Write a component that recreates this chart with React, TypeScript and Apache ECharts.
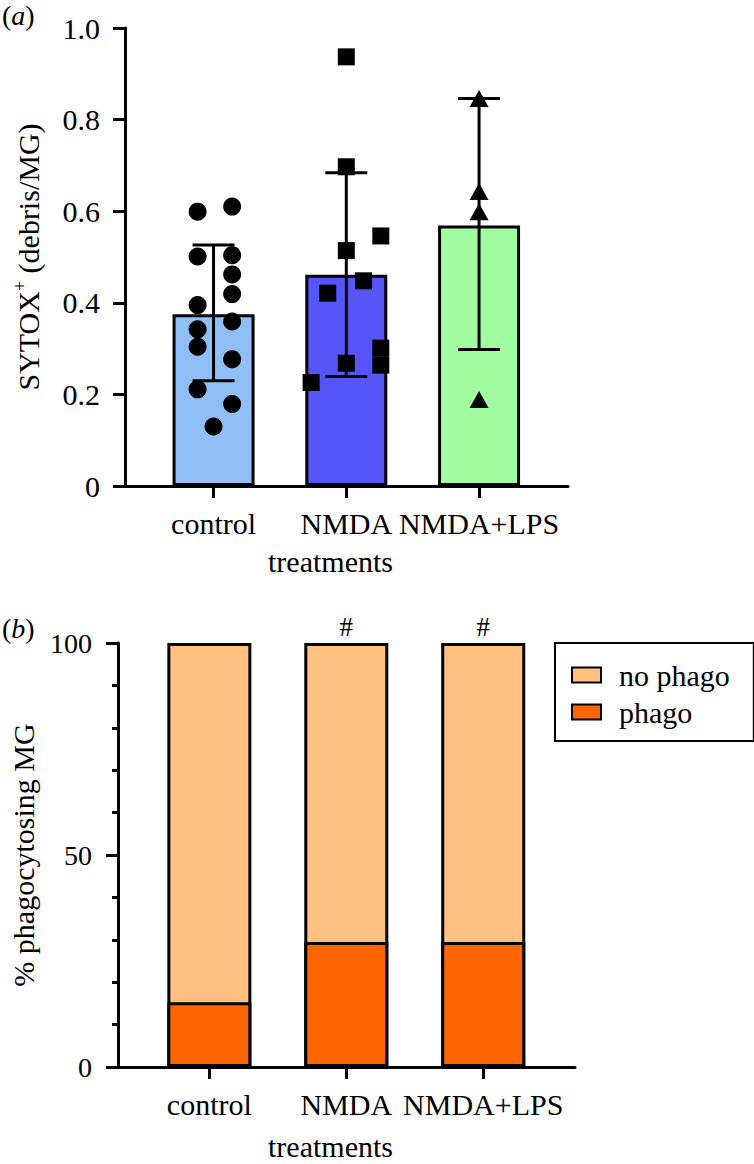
import React, { useEffect, useRef } from 'react';
import * as echarts from 'echarts';

const FONT = 'Liberation Serif';

// ---- shared categories ----
const categories = ['control', 'NMDA', 'NMDA+LPS'];
const catIndex = [0, 1, 2];

// ---- panel (a) ----
const barColorsA = ['#8FBFF6', '#5656F8', '#A2FDA0'];
const meansA = [0.375, 0.461, 0.569];
const errLowA = [0.23, 0.239, 0.298];
const errHighA = [0.526, 0.684, 0.846];
const controlPts = [0.599, 0.61, 0.501, 0.504, 0.462, 0.419, 0.395, 0.342, 0.304, 0.359, 0.277, 0.211, 0.179, 0.13];
const controlJitter = [-0.12, 0.14, -0.12, 0.14, 0.14, 0.14, -0.12, -0.12, -0.12, 0.14, 0.14, -0.12, 0.14, 0];
const nmdaPts = [0.937, 0.697, 0.546, 0.514, 0.448, 0.421, 0.301, 0.264, 0.268, 0.226];
const nmdaJitter = [0, 0, 0.26, 0, 0.13, -0.14, 0.26, 0.26, 0, -0.265];
const lpsPts = [0.846, 0.643, 0.599, 0.189];
const lpsJitter = [0, 0, 0, 0];

// ---- panel (b) ----
const phago = [15.3, 29.5, 29.5];
const noPhago = [84.7, 70.5, 70.5];
const sigMarks = ['', '#', '#'];
const colorNoPhago = '#FFC080';
const colorPhago = '#FF6600';

const axisLineStyle = { color: '#000', width: 3 };

function xAxisFor(gridIndex: number, labelMargin: number, nameGap: number) {
  return {
    type: 'value',
    gridIndex,
    min: -0.667,
    max: 2.67,
    axisLine: { show: true, onZero: false, lineStyle: axisLineStyle },
    axisTick: { show: true, inside: false, length: 12, customValues: catIndex, lineStyle: axisLineStyle },
    axisLabel: {
      fontFamily: FONT,
      color: '#000',
      fontSize: 30,
      margin: labelMargin,
      customValues: catIndex,
      formatter: (v: number) => categories[Math.round(v)] ?? '',
    },
    splitLine: { show: false },
    name: 'treatments',
    nameLocation: 'middle',
    nameGap,
    nameTextStyle: { fontFamily: FONT, color: '#000', fontSize: 30, padding: [0, 32, 0, 0] },
  };
}

function scatterSeries(pts: number[], jitter: number[], cat: number, symbol: string, size: any) {
  return {
    type: 'scatter',
    xAxisIndex: 0,
    yAxisIndex: 0,
    symbol,
    symbolSize: size,
    itemStyle: { color: '#000', opacity: 1 },
    z: 5,
    data: pts.map((v, i) => [cat + jitter[i], v]),
  };
}

export default function App() {
  const ref = useRef<HTMLDivElement>(null);

  useEffect(() => {
    if (!ref.current) return;
    const chart = echarts.init(ref.current, undefined, { renderer: 'svg' });

    const richParen = {
      p: { fontFamily: FONT, fontSize: 28, fill: '#000' },
      i: { fontFamily: FONT, fontSize: 28, fontStyle: 'italic', fill: '#000' },
    };

    const option: any = {
      animation: false,
      backgroundColor: '#fff',
      textStyle: { fontFamily: FONT },
      graphic: [
        { type: 'text', left: 2, top: 1, style: { text: '{p|(}{i|a}{p|)}', fontFamily: FONT, fontSize: 28, fill: '#000', rich: richParen } },
        { type: 'text', left: 2, top: 614, style: { text: '{p|(}{i|b}{p|)}', fontFamily: FONT, fontSize: 28, fill: '#000', rich: richParen } },
      ],
      grid: [
        { left: 125, top: 28, width: 443, height: 458, containLabel: false },
        { left: 118, top: 643, width: 457, height: 424, containLabel: false },
      ],
      legend: {
        data: [
          { name: 'no phago', icon: 'rect' },
          { name: 'phago', icon: 'rect' },
        ],
        orient: 'vertical',
        left: 555,
        top: 643,
        padding: [17, 24, 14, 16],
        borderColor: '#000',
        borderWidth: 2,
        itemWidth: 29,
        itemHeight: 15,
        itemGap: 7,
        textStyle: { fontFamily: FONT, color: '#000', fontSize: 30, lineHeight: 30, padding: [0, 0, 0, 13] },
      },
      xAxis: [xAxisFor(0, 22, 60), xAxisFor(1, 22, 64)],
      yAxis: [
        {
          type: 'value',
          gridIndex: 0,
          min: 0,
          max: 1,
          interval: 0.2,
          axisLine: { show: true, onZero: false, lineStyle: axisLineStyle },
          axisTick: { show: true, inside: false, length: 12, lineStyle: axisLineStyle },
          axisLabel: {
            fontFamily: FONT,
            color: '#000',
            fontSize: 30,
            margin: 25,
            formatter: (v: number) => (v === 0 ? '0' : v.toFixed(1)),
          },
          splitLine: { show: false },
          name: '{n|SYTOX}{s|+}{n| (debris/MG)}',
          nameLocation: 'middle',
          nameGap: 80,
          nameTextStyle: {
            fontFamily: FONT,
            color: '#000',
            fontSize: 30,
            rich: {
              n: { fontFamily: FONT, fontSize: 30, color: '#000' },
              s: { fontFamily: FONT, fontSize: 18, color: '#000', padding: [0, 0, 16, 0] },
            },
          },
        },
        {
          type: 'value',
          gridIndex: 1,
          min: 0,
          max: 100,
          interval: 50,
          axisLine: { show: true, onZero: false, lineStyle: axisLineStyle },
          axisTick: { show: true, inside: false, length: 12, lineStyle: axisLineStyle },
          minorTick: { show: true, splitNumber: 5, length: 6, lineStyle: axisLineStyle },
          axisLabel: { fontFamily: FONT, color: '#000', fontSize: 28, margin: 26 },
          splitLine: { show: false },
          minorSplitLine: { show: false },
          name: '% phagocytosing MG',
          nameLocation: 'middle',
          nameGap: 80,
          nameTextStyle: { fontFamily: FONT, color: '#000', fontSize: 30 },
        },
      ],
      series: [
        {
          type: 'bar',
          xAxisIndex: 0,
          yAxisIndex: 0,
          barWidth: 82,
          z: 2,
          itemStyle: { borderColor: '#000', borderWidth: 3 },
          data: meansA.map((m, i) => ({ value: [catIndex[i], m], itemStyle: { color: barColorsA[i] } })),
        },
        {
          type: 'custom',
          xAxisIndex: 0,
          yAxisIndex: 0,
          z: 4,
          encode: { x: 0, y: [1, 2] },
          data: catIndex.map((c, i) => [c, errLowA[i], errHighA[i]]),
          renderItem: (params: any, api: any) => {
            const x = api.value(0);
            const lo = api.coord([x, api.value(1)]);
            const hi = api.coord([x, api.value(2)]);
            const w = 21;
            const st = { stroke: '#000', lineWidth: 3, fill: null };
            return {
              type: 'group',
              children: [
                { type: 'line', shape: { x1: lo[0], y1: lo[1], x2: hi[0], y2: hi[1] }, style: st },
                { type: 'line', shape: { x1: hi[0] - w, y1: hi[1], x2: hi[0] + w, y2: hi[1] }, style: st },
                { type: 'line', shape: { x1: lo[0] - w, y1: lo[1], x2: lo[0] + w, y2: lo[1] }, style: st },
              ],
            };
          },
        },
        scatterSeries(controlPts, controlJitter, 0, 'circle', 18),
        scatterSeries(nmdaPts, nmdaJitter, 1, 'rect', 17),
        scatterSeries(lpsPts, lpsJitter, 2, 'triangle', [19, 17]),
        {
          type: 'bar',
          name: 'no phago',
          xAxisIndex: 1,
          yAxisIndex: 1,
          barWidth: 84,
          z: 2,
          itemStyle: { color: colorNoPhago, borderColor: '#000', borderWidth: 3 },
          label: { show: true, position: 'top', distance: 3, fontFamily: FONT, color: '#000', fontSize: 27 },
          data: noPhago.map((v, i) => ({
            value: [catIndex[i], phago[i] + v],
            label: { show: !!sigMarks[i], formatter: sigMarks[i] },
          })),
        },
        {
          type: 'bar',
          name: 'phago',
          xAxisIndex: 1,
          yAxisIndex: 1,
          barWidth: 84,
          barGap: '-100%',
          z: 3,
          itemStyle: { color: colorPhago, borderColor: '#000', borderWidth: 3 },
          data: phago.map((v, i) => [catIndex[i], v]),
        },
      ],
    };

    chart.setOption(option);
    return () => chart.dispose();
  }, []);

  return (
    <div
      ref={ref}
      style={{ position: 'absolute', left: 0, top: 0, width: 754, height: 1164, background: '#fff' }}
    />
  );
}
